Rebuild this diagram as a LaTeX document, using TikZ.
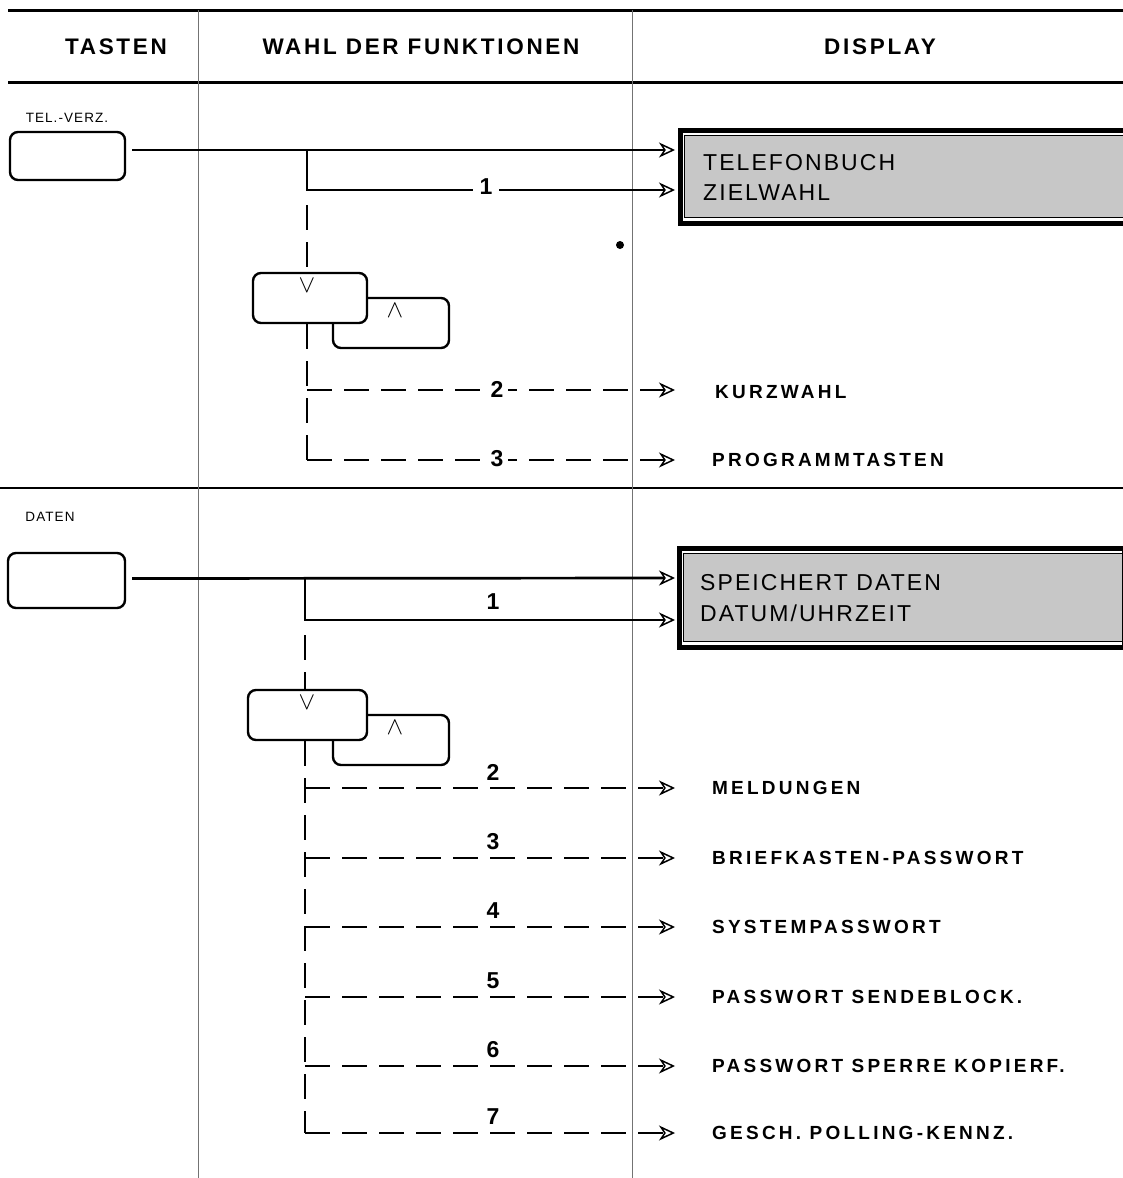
\documentclass[tikz,border=0pt]{standalone}
\usepackage{fontspec}
\setmainfont{Liberation Sans}
\newfontfamily\hdfont[LetterSpace=12]{Liberation Sans}
\newfontfamily\itemfont[LetterSpace=17]{Liberation Sans}
\newfontfamily\dispfont[LetterSpace=9]{Liberation Sans}
\newfontfamily\keyfont[LetterSpace=8]{Liberation Sans}
\usetikzlibrary{arrows.meta}

\tikzset{
  rule/.style={line width=3pt},
  divider/.style={line width=1pt, black!55},
  keybox/.style={draw, line width=2.4pt, rounded corners=8pt, fill=white,
    minimum width=115pt, minimum height=48pt, inner sep=0pt},
  keylabel/.style={font=\keyfont\fontsize{13.5}{15}\selectfont, inner sep=0pt},
  colhead/.style={font=\hdfont\bfseries\fontsize{22.5}{26}\selectfont, inner sep=0pt},
  disp/.style={draw, line width=5pt, minimum width=445pt, minimum height=93pt, inner sep=0pt},
  dispin/.style={line width=1.5pt, fill=black!22},
  disptext/.style={font=\dispfont\fontsize{23}{26}\selectfont, anchor=west, inner sep=0pt},
  item/.style={font=\itemfont\bfseries\fontsize{19}{22}\selectfont, anchor=west, inner sep=0pt},
  num/.style={font=\bfseries\fontsize{23}{26}\selectfont, inner sep=2.5pt},
  solidarr/.style={line width=2.7pt, -{Stealth[open, length=16pt, width=15pt, inset=5pt, line width=1.5pt]}},
  dasharr/.style={solidarr, dash pattern=on 25pt off 12pt},
  dashline/.style={line width=2.7pt, dash pattern=on 25pt off 12pt},
  symb/.style={font=\fontsize{25}{26}\selectfont, inner sep=0pt}
}

\begin{document}
\begin{tikzpicture}[x=1pt, y=-1pt]
\useasboundingbox (0,0) rectangle (1123,1178);

% table frame
\draw[rule] (8,10) -- (1123,10);
\draw[rule] (8,82) -- (1123,82);
\draw[line width=2.6pt] (0,488) -- (1123,488);
\draw[divider] (198,10) -- (198,1178);
\draw[divider] (632,10) -- (632,1178);

% column headings
\node[colhead] (hTasten) at (116,47) {TASTEN};
\node[colhead] (hWahl) at (421,47) {WAHL DER FUNKTIONEN};
\node[colhead] (hDisp) at (880,47) {DISPLAY};

% ---------------- section 1: TEL.-VERZ. ----------------
\node[keylabel] (lTel) at (67,118) {TEL.-VERZ.};
\node[keybox] (kTel) at (67.5,156) {};

\node[disp] (d1) at (902.5,176.5) {};
\draw[dispin] ([shift={(7,8)}]d1.north west) rectangle ([shift={(-4,-8)}]d1.south east);
\node[disptext] (t1a) at (703,163) {TELEFONBUCH};
\node[disptext] (t1b) at (703,193) {ZIELWAHL};

\coordinate (a1) at (675,150);
\coordinate (b1) at (675,190);
\coordinate (s1) at (307,150);
\coordinate (c1) at (307,190);
\draw[solidarr] ([yshift=6pt,xshift=6pt]kTel.east) -- (a1);
\draw[solidarr] (s1) -- (c1) -- (b1);
\node[num, fill=white, inner xsep=7pt] (n1a) at (486,187) {1};

\fill (620,245) circle (4pt);

% up/down keys
\node[keybox, minimum width=116pt, minimum height=50pt] (kUp1) at (391,323) {};
\node[keybox, minimum width=114pt, minimum height=50pt] (kDn1) at (310,298) {};
\node[symb] (sDn1) at (307,286) {$\vee$};
\node[symb] (sUp1) at (395,311) {$\wedge$};

\draw[dashline] (307,205) -- (kDn1.north -| s1);
\coordinate (c2) at (307,390);
\coordinate (c3) at (307,460);
\coordinate (a2) at (675,390);
\coordinate (a3) at (675,460);
\draw[dashline] (kDn1.south -| s1) -- (c3);
\draw[dasharr] (c2) -- (a2);
\draw[dasharr] (c3) -- (a3);
\node[num, fill=white, inner xsep=5pt] (n1b) at (497,389) {2};
\node[num, fill=white, inner xsep=5pt] (n1c) at (497,459) {3};
\node[item] (i1b) at (715,392) {KURZWAHL};
\node[item] (i1c) at (712,460) {PROGRAMMTASTEN};

% ---------------- section 2: DATEN ----------------
\node[keylabel] (lDat) at (50,517) {DATEN};
\node[keybox, minimum width=117pt, minimum height=55pt] (kDat) at (66.5,580.5) {};

\node[disp, minimum height=99pt] (d2) at (901.5,597.5) {};
\draw[dispin] ([shift={(7,8)}]d2.north west) rectangle ([shift={(-4,-8)}]d2.south east);
\node[disptext] (t2a) at (700,583) {SPEICHERT DATEN};
\node[disptext] (t2b) at (700,613) {DATUM/UHRZEIT};

\coordinate (a21) at (675,578);
\coordinate (b21) at (675,620);
\coordinate (s2) at (305,578);
\coordinate (c21) at (305,620);
\draw[solidarr] ([yshift=2pt,xshift=6pt]kDat.east) -- (a21);
\draw[solidarr] (s2) -- (c21) -- (b21);
\node[num] (n2a) at (493,602) {1};

\node[keybox, minimum width=116pt, minimum height=50pt] (kUp2) at (391,740) {};
\node[keybox, minimum width=119pt, minimum height=50pt] (kDn2) at (307.5,715) {};
\node[symb] (sDn2) at (307,703) {$\vee$};
\node[symb] (sUp2) at (395,728) {$\wedge$};

\draw[dashline] (305,635) -- (kDn2.north -| s2);
\coordinate (cEnd) at (305,1133);
\draw[dashline] (kDn2.south -| s2) -- (cEnd);

\foreach \n/\y/\txt in {2/788/MELDUNGEN, 3/858/BRIEFKASTEN-PASSWORT,
    4/927/SYSTEMPASSWORT, 5/997/PASSWORT SENDEBLOCK.,
    6/1066/PASSWORT SPERRE KOPIERF., 7/1133/GESCH. POLLING-KENNZ.} {
  \coordinate (r\n) at (305,\y);
  \coordinate (e\n) at (675,\y);
  \draw[dasharr] (r\n) -- (e\n);
  \node[num] (m\n) at (493,\y-16) {\n};
  \node[item] (it\n) at (712,\y) {\txt};
}
\end{tikzpicture}
\end{document}
